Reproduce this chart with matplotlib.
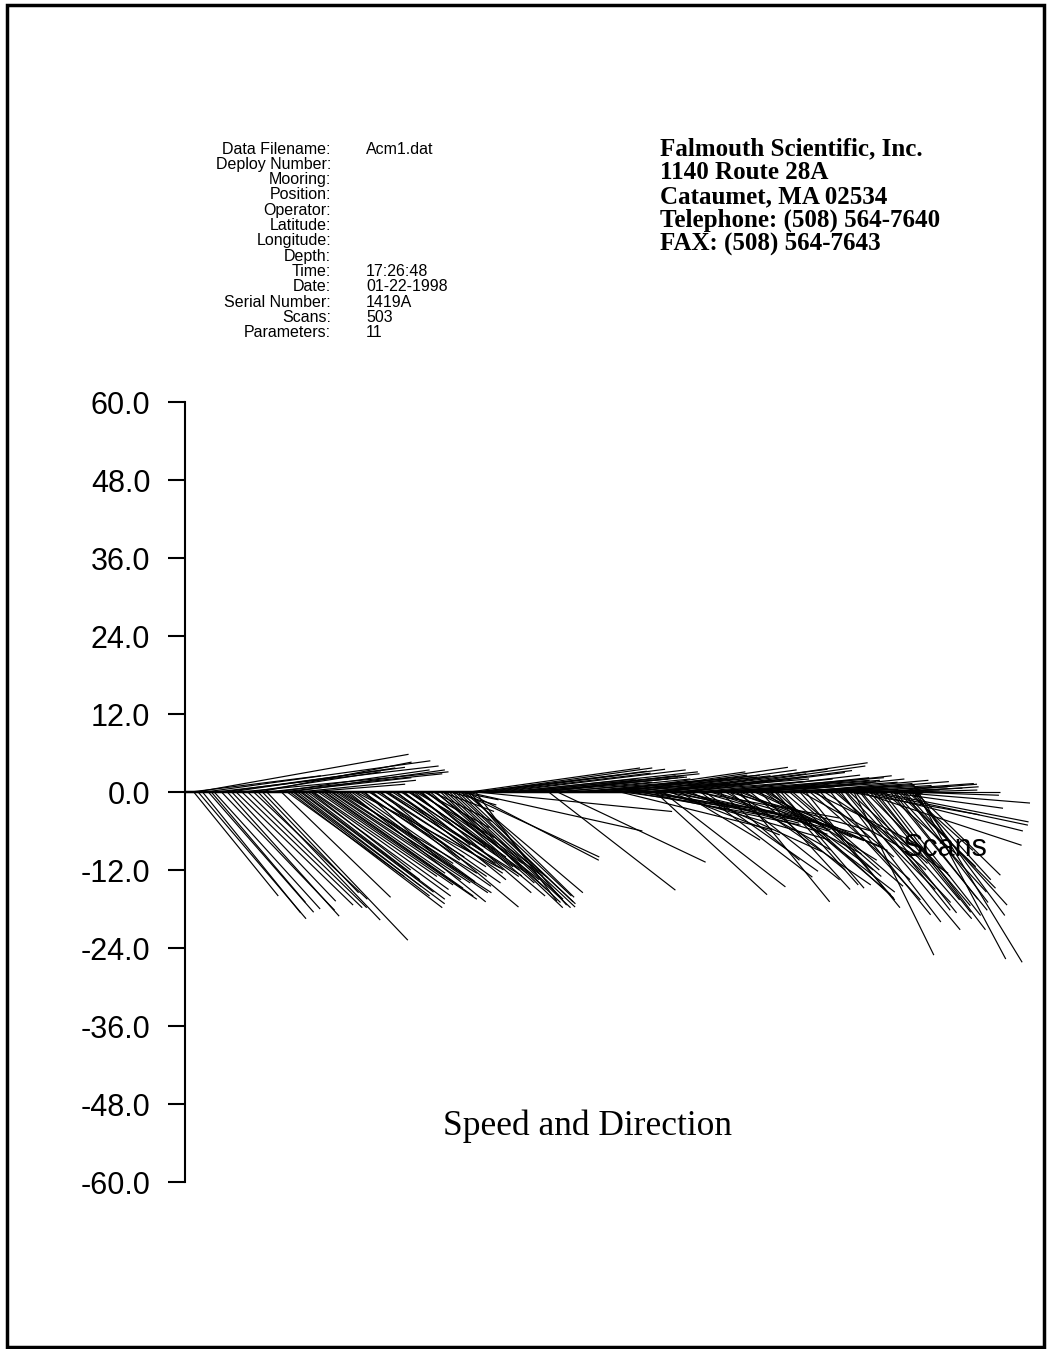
import matplotlib.pyplot as plt
from matplotlib.collections import LineCollection
from matplotlib.patches import Rectangle

# header info
info_labels = ['Data Filename:', 'Deploy Number:', 'Mooring:', 'Position:', 'Operator:',
               'Latitude:', 'Longitude:', 'Depth:', 'Time:', 'Date:', 'Serial Number:',
               'Scans:', 'Parameters:']
info_values = ['Acm1.dat', '', '', '', '', '', '', '', '17:26:48', '01-22-1998', '1419A',
               '503', '11']
company_lines = ['Falmouth Scientific, Inc.', '1140 Route 28A', 'Cataumet, MA 02534',
                 'Telephone: (508) 564-7640', 'FAX: (508) 564-7643']

y_ticks = [60.0, 48.0, 36.0, 24.0, 12.0, 0.0, -12.0, -24.0, -36.0, -48.0, -60.0]
n_scans = 503

# stick vectors: start scan, east component, north component
stick_scan = [
    8, 14, 21, 38, 51, 62, 31, 72, 45, 4, 26, 56, 66, 78, 84,
    9, 12, 16, 20, 25, 29, 35, 39, 43, 47, 50, 53, 56, 66, 6, 18, 32,
    72, 75, 79, 82, 86, 91, 96, 101, 106, 112, 117, 123, 128, 134, 139, 145, 150, 155, 161, 166,
    70, 77, 84, 88, 93, 98, 103, 108, 114, 120, 126, 131, 137, 142, 148, 153, 158, 164, 170, 176, 182, 188,
    74, 80, 87, 95, 100, 105, 110, 116, 122, 127, 133, 138, 144, 149, 154, 160, 165, 168, 172, 162, 157,
    175, 179, 183, 187, 191, 195, 199, 171, 177, 181, 185, 189, 193,
    188, 193, 249, 255, 193, 200,
    195, 202, 209, 216, 223, 229, 236, 247, 257, 267, 199, 212, 220, 240, 250, 262,
    205, 226, 233, 244, 272, 285, 296, 316, 328, 341, 350, 362, 375, 386, 393, 408, 424,
    277, 288, 298, 308, 318, 329, 339, 353, 363, 373, 384,
    283, 293, 303, 313, 323, 334, 345, 358, 368, 378, 390, 396, 402, 410, 418, 426, 434, 442, 450,
    322, 327, 380, 353, 356, 346, 366, 373, 387, 394, 339, 332, 298, 312, 325, 353, 370,
    305, 318, 336, 342, 360, 376, 383, 390, 398,
    300, 310, 320, 330, 340, 350, 362, 372, 380, 392,
    401, 397, 377, 405,
    458, 501, 502, 421, 425, 449, 462, 459, 473, 483, 493, 490, 486, 408, 404, 435, 442, 452,
    469, 476, 497, 500, 414, 428, 432, 445, 455, 466, 479, 488, 495,
    400, 410, 416, 422, 430, 438, 447, 453, 463, 471, 478, 485, 492, 499,
    476, 483, 486, 469, 473, 462, 466, 490, 495, 480, 455, 498,
    420, 440, 460, 470,
]
stick_east = [
    32.6, 34.6, 34.3, 32.0, 23.4, 23.7, 25.4, 23.8, 20.0, 20.0, 28.0, 27.0, 20.0, 18.0, 15.0,
    16.6, 15.1, 16.2, 16.3, 17.4, 17.2, 18.0, 18.5, 18.3, 17.5, 18.8, 14.8, 21.7, 16.8, 13.0, 14.5, 16.0,
    23.4, 23.1, 20.5, 17.7, 15.4, 20.8, 21.2, 21.2, 21.1, 21.1, 22.2, 11.7, 13.5, 21.2, 20.6, 16.8, 10.2, 16.6, 11.5, 17.2,
    18.0, 19.0, 22.0, 19.0, 24.0, 18.0, 24.0, 17.0, 19.0, 16.0, 18.0, 15.0, 17.0, 14.0, 13.0, 15.0, 12.0, 10.0, 9.0, 8.0, 7.0, 6.0,
    21.0, 22.0, 21.0, 23.0, 20.0, 23.0, 20.0, 21.0, 19.0, 20.0, 19.0, 18.0, 19.0, 17.0, 18.0, 16.0, 18.0, 16.0, 17.0, 19.0, 18.0,
    18.8, 19.1, 18.9, 17.7, 18.3, 14.9, 12.5, 17.4, 18.0, 17.5, 18.5, 17.0, 16.5,
    21.5, 20.3, 19.5, 22.8, 27.0, 30.0,
    26.2, 26.5, 26.9, 28.5, 28.8, 27.7, 24.2, 20.0, 20.0, 19.0, 22.0, 24.0, 20.0, 18.0, 24.0, 25.0,
    25.0, 26.0, 22.0, 21.0, 22.0, 24.0, 20.0, 25.0, 22.0, 26.0, 21.0, 24.0, 21.0, 22.0, 18.0, 19.0, 17.0,
    26.2, 21.5, 25.8, 24.9, 27.4, 31.1, 28.5, 28.2, 22.3, 23.1, 19.2,
    20.0, 18.0, 22.0, 20.0, 23.0, 20.0, 24.0, 18.0, 20.0, 15.0, 22.0, 18.0, 20.0, 16.0, 18.0, 14.0, 20.0, 18.0, 15.0,
    17.2, 18.9, 13.8, 17.2, 17.4, 20.3, 12.3, 16.9, 14.6, 13.8, 12.3, 16.9, 23.4, 24.6, 26.2, 20.0, 16.2,
    20.0, 22.0, 19.0, 22.0, 18.0, 20.0, 18.0, 15.0, 17.0,
    18.0, 21.0, 25.0, 20.0, 24.0, 22.0, 24.0, 22.0, 22.0, 20.0,
    18.5, 20.0, 20.8, 18.0,
    12.3, 13.7, 16.0, 14.6, 14.5, 15.4, 14.9, 14.6, 14.6, 14.9, 15.7, 14.6, 14.1, 12.8, 12.8, 15.4, 15.4, 17.7,
    13.8, 16.2, 12.3, 13.1, 13.8, 15.4, 12.0, 14.0, 12.0, 13.0, 11.0, 12.0, 10.0,
    16.0, 15.0, 17.0, 18.0, 16.0, 19.0, 15.0, 16.0, 17.0, 15.0, 15.0, 13.0, 13.0, 14.0,
    14.9, 16.9, 20.8, 24.3, 23.5, 24.9, 24.2, 12.0, 14.0, 18.0, 20.0, 10.0,
    20.0, 16.0, 18.0, 14.0,
]
stick_north = [
    5.8, 4.8, 4.0, 3.1, 4.6, 3.4, 3.7, 3.4, 3.1, 2.5, 3.8, 2.8, 2.2, 1.8, 1.2,
    -19.5, -18.6, -18.5, -18.0, -18.2, -19.1, -17.4, -17.8, -17.8, -16.5, -19.7, -15.5, -22.8, -16.2, -16.0, -17.0, -16.8,
    -17.8, -17.2, -15.4, -13.5, -12.0, -14.3, -14.8, -14.0, -12.5, -16.9, -11.7, -10.5, -10.5, -17.7, -12.9, -13.5, -8.2, -12.0, -8.9, -13.5,
    -13.0, -14.5, -16.0, -13.0, -16.5, -12.5, -15.5, -11.0, -13.8, -10.0, -11.5, -9.5, -11.0, -9.0, -8.5, -10.0, -7.0, -5.5, -4.5, -3.0, -2.0, -1.2,
    -16.0, -16.5, -15.0, -16.0, -13.5, -15.5, -14.0, -14.5, -13.0, -14.0, -12.5, -12.0, -13.0, -11.5, -12.5, -11.0, -13.0, -14.0, -15.0, -16.0, -15.5,
    -17.8, -17.8, -17.7, -16.9, -15.5, -17.4, -16.8, -13.2, -17.0, -16.5, -17.2, -16.0, -16.2,
    -10.0, -10.5, -15.1, -10.8, -6.0, -3.0,
    3.7, 3.7, 3.5, 3.4, 3.1, 2.8, 2.3, 2.5, 2.0, 1.7, 2.6, 2.9, 2.0, 1.5, 1.8, 1.3,
    3.2, 2.5, 2.0, 2.2, 2.0, 2.3, 2.6, 2.0, 2.4, 3.3, 2.0, 1.8, 2.2, 2.5, 1.6, 2.0, 1.0,
    2.6, 3.1, 3.8, 3.4, 3.5, 4.5, 4.0, 2.2, 2.6, 1.8, 1.4,
    1.5, 1.2, 2.5, 1.8, 2.8, 1.6, 3.0, 1.0, 1.2, 0.8, 1.5, 0.6, 1.0, 0.5, 1.3, 0.4, 1.6, 0.8, 0.3,
    -15.8, -14.6, -16.9, -13.1, -12.2, -9.2, -10.5, -13.5, -12.0, -15.0, -7.4, -6.6, -5.8, -5.1, -7.4, -5.8, -8.9,
    -3.5, -4.2, -4.8, -6.5, -6.0, -7.5, -9.5, -7.0, -10.5,
    -2.5, -3.0, -4.5, -3.8, -5.5, -4.0, -7.0, -6.0, -8.5, -9.0,
    -15.8, -15.4, -14.3, -16.3,
    -25.1, -25.7, -26.2, -16.6, -17.8, -20.0, -18.6, -18.2, -18.5, -18.2, -17.4, -14.8, -15.4, -14.8, -14.3, -16.6, -18.9, -21.2,
    -16.6, -21.2, -13.5, -12.8, -12.0, -13.5, -10.0, -12.0, -11.0, -13.0, -9.5, -11.5, -9.0,
    -12.0, -13.0, -14.5, -10.0, -8.0, -12.5, -15.0, -17.0, -19.5, -17.5, -19.0, -16.5, -17.0, -19.0,
    1.2, 0.0, -1.7, -5.1, -4.6, -8.2, -6.0, 0.8, -0.5, -2.5, -3.5, 0.3,
    1.8, 1.0, 1.3, 0.6,
]

W, H = 1049, 1349
fig = plt.figure(figsize=(W / 100, H / 100), dpi=100)

# plot box in pixels: y axis at x=185, +60 at y=402, -60 at y=1182
left, right, top, bottom = 185, 1035, 402, 1182
ax = fig.add_axes([left / W, 1 - bottom / H, (right - left) / W, (bottom - top) / H])
x_max = 582
ax.set_xlim(0, x_max)
ax.set_ylim(-60, 60)
ax.patch.set_alpha(0)

# same pixel scale for east and north components
k = ((bottom - top) / 120.0) / ((right - left) / x_max)
segs = []
for s, u, v in zip(stick_scan, stick_east, stick_north):
    segs.append([(s, 0), (s + u * k, v)])
ax.add_collection(LineCollection(segs, colors='black', linewidths=0.85, clip_on=False))

# x axis with arrow
ax.annotate('', xy=(n_scans + 4, 0), xytext=(0, 0),
            arrowprops=dict(arrowstyle='->', lw=1.8, color='black', mutation_scale=14,
                            shrinkA=0, shrinkB=0))

for sp in ['top', 'right', 'bottom']:
    ax.spines[sp].set_visible(False)
ax.spines['left'].set_linewidth(1.5)
ax.set_xticks([])
ax.set_yticks(y_ticks)
ax.set_yticklabels(['%.1f' % t for t in y_ticks], fontsize=22, family='Liberation Sans')
ax.tick_params(axis='y', direction='out', length=12, width=1.5, pad=13)

fig.text(903 / W, 1 - 848 / H, 'Scans', fontsize=22, family='Liberation Sans',
         ha='left', va='center')
fig.text(443 / W, 1 - 1126 / H, 'Speed and Direction', fontsize=25.5,
         family='Liberation Serif', ha='left', va='center')

for i, (lab, val) in enumerate(zip(info_labels, info_values)):
    y = 1 - (149 + i * 15.33) / H
    fig.text(331 / W, y, lab, fontsize=11.5, family='Liberation Sans', ha='right', va='center')
    if val:
        fig.text(366 / W, y, val, fontsize=11.5, family='Liberation Sans', ha='left', va='center')

for i, line in enumerate(company_lines):
    fig.text(660 / W, 1 - (149 + i * 23.8) / H, line, fontsize=18,
             family='Liberation Serif', weight='bold', ha='left', va='center')

# page frame
fig.patches.append(Rectangle((7 / W, 1 - 1347 / H), (1044 - 7) / W, (1347 - 5) / H,
                             transform=fig.transFigure, fill=False, lw=2.5, ec='black'))

fig.savefig('out.png', dpi=100)
